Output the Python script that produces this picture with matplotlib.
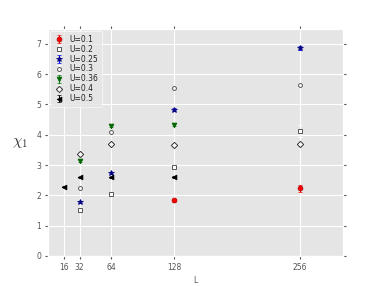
import matplotlib
matplotlib.use("Agg")
import matplotlib.pyplot as plt

plt.style.use("ggplot")
plt.rcParams['mathtext.fontset'] = 'cm'

L_01 = [128, 256]
chi_01 = [1.84, 2.23]
err_01 = [0.05, 0.12]

L_02 = [32, 64, 128, 256]
chi_02 = [1.51, 2.06, 2.95, 4.12]
err_02 = [0.03, 0.04, 0.05, 0.2]

L_025 = [32, 64, 128, 256]
chi_025 = [1.77, 2.73, 4.83, 6.87]
err_025 = [0.03, 0.04, 0.05, 0.07]

L_03 = [32, 64, 128, 256]
chi_03 = [2.23, 4.09, 5.55, 5.64]
err_03 = [0.02, 0.03, 0.04, 0.05]

L_036 = [32, 64, 128]
chi_036 = [3.13, 4.28, 4.33]
err_036 = [0.03, 0.04, 0.05]

L_04 = [32, 64, 128, 256]
chi_04 = [3.38, 3.68, 3.67, 3.68]
err_04 = [0.02, 0.02, 0.02, 0.03]

L_05 = [16, 32, 64, 128]
chi_05 = [2.28, 2.59, 2.59, 2.60]
err_05 = [0.02, 0.03, 0.03, 0.03]

xticks = [16, 32, 64, 128, 256]

fig = plt.figure(figsize=(3.82, 2.86), dpi=100)
ax = fig.add_axes([0.126, 0.105, 0.772, 0.795])

ms = 3.5
kw = dict(capsize=1.5, elinewidth=0.7, capthick=0.7)
ax.errorbar(L_01, chi_01, yerr=err_01, fmt='o', color='red', mfc='red', mec='#aa0000', ms=ms, ecolor='red', mew=0.5, label='U=0.1', **kw)
ax.errorbar(L_02, chi_02, yerr=err_02, fmt='s', color='white', mfc='white', mec='#555555', ms=ms, ecolor='white', mew=0.7, label='U=0.2', **kw)
ax.errorbar(L_025, chi_025, yerr=err_025, fmt='*', color='blue', mfc='#000080', mec='#000080', ms=ms + 0.5, ecolor='blue', mew=0.5, label='U=0.25', **kw)
ax.errorbar(L_03, chi_03, yerr=err_03, fmt='o', color='white', mfc='white', mec='#555555', ms=2.8, ecolor='white', mew=0.7, label='U=0.3', **kw)
ax.errorbar(L_036, chi_036, yerr=err_036, fmt='v', color='green', mfc='#006400', mec='#006400', ms=ms, ecolor='green', mew=0.5, label='U=0.36', **kw)
ax.errorbar(L_04, chi_04, yerr=err_04, fmt='D', color='white', mfc='white', mec='#333333', ms=3.2, ecolor='white', mew=0.7, label='U=0.4', **kw)
ax.errorbar(L_05, chi_05, yerr=err_05, fmt='<', color='black', mfc='black', mec='black', ms=ms, ecolor='black', mew=0.5, label='U=0.5', **kw)

ax.set_xlim(0, 300)
ax.set_ylim(0, 7.5)
ax.set_xticks(xticks)
ax.set_xticklabels([str(x) for x in xticks])
ax.set_yticks(range(0, 8))
ax.tick_params(labelsize=5.5, length=2, pad=3, top=True, right=True, colors='#555555')
ax.set_xlabel('L', fontsize=5.5, color='#555555', labelpad=3)
ax.set_ylabel(r'$\chi_1$', fontsize=11, rotation=0, color='#333333', labelpad=12, va='center')
leg = ax.legend(loc='upper left', fontsize=5.5, numpoints=1, frameon=True, handlelength=1.2,
                labelspacing=0.12, borderpad=0.5, handletextpad=0.8, borderaxespad=0.3)
leg.get_frame().set_facecolor('#E5E5E5')
leg.get_frame().set_edgecolor('white')
for t in leg.get_texts():
    t.set_color('#222222')

fig.savefig('out.png', dpi=100)
